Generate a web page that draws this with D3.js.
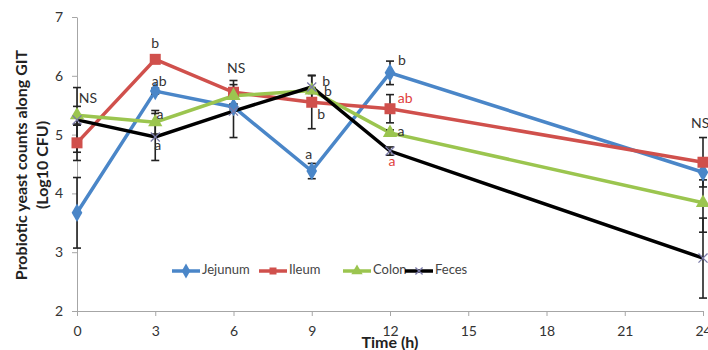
<!DOCTYPE html>
<html lang="en">
  <head>
    <meta charset="UTF-8" />
    <title>Probiotic yeast counts along GIT</title>
    <script src="https://d3js.org/d3.v7.min.js"></script>
    <style>
      body { margin: 0; background: #fff; }
      text { font-family: "Lato", "Open Sans", sans-serif; }
      .axis path, .axis line { stroke: #a6a6a6; }
      .axis text { font-size: 14px; fill: #333; }
      .axis-label { font-size: 16px; font-weight: bold; fill: #222; }
      .line { fill: none; stroke-width: 3.5px; }
      .ann { font-size: 14px; }
    </style>
  </head>
  <body>
    <svg id="chart" width="708" height="350"></svg>
    <script>
      // data
      const times = [0, 3, 6, 9, 12, 24];
      const tickTimes = [0, 3, 6, 9, 12, 15, 18, 21, 24];
      const seriesNames = ["Jejunum", "Ileum", "Colon", "Feces"];
      const jejunum = [3.67, 5.74, 5.47, 4.38, 6.05, 4.36];
      const ileum = [4.86, 6.28, 5.72, 5.55, 5.44, 4.53];
      const colon = [5.33, 5.21, 5.66, 5.75, 5.03, 3.84];
      const feces = [5.25, 4.96, 5.40, 5.81, 4.72, 2.90];
      const jejunumErr = [0.6, 0.05, 0.05, 0.13, 0.2, 0.13];
      const ileumErr = [0.3, 0.05, 0.2, 0.45, 0.24, 0.42];
      const colonErr = [0.15, 0.2, 0.05, 0.05, 0.05, 0.5];
      const fecesErr = [0.55, 0.4, 0.45, 0.2, 0.07, 0.68];
      // significance letters: time (h), value at text centre, label, red?
      const annTimes = [0.42, 3.0, 3.15, 3.18, 3.1, 6.1, 9.55, 9.62, 9.36, 8.88, 12.46, 12.58, 12.42, 12.08, 23.89];
      const annValues = [5.59, 6.54, 5.88, 5.33, 4.79, 6.1, 5.88, 5.72, 5.33, 4.64, 6.25, 5.59, 5.04, 4.52, 5.18];
      const annLabels = ["NS", "b", "ab", "a", "a", "NS", "b", "b", "b", "a", "b", "ab", "a", "a", "NS"];
      const annRed = [0, 0, 0, 0, 0, 0, 0, 0, 0, 0, 0, 1, 0, 1, 0];

      const svg = d3.select("#chart");

      const x = d3.scaleLinear().domain([0, 24]).range([77, 703]);
      const y = d3.scaleLinear().domain([2, 7]).range([311, 17]);

      const colors = d3
        .scaleOrdinal()
        .domain(seriesNames)
        .range(["#4a86c8", "#d0504c", "#9bc54f", "#000000"]);

      const series = [
        { name: "Jejunum", values: jejunum, err: jejunumErr },
        { name: "Ileum", values: ileum, err: ileumErr },
        { name: "Colon", values: colon, err: colonErr },
        { name: "Feces", values: feces, err: fecesErr },
      ];

      // axes
      svg
        .append("g")
        .attr("class", "axis")
        .attr("transform", "translate(0,311)")
        .call(d3.axisBottom(x).tickValues(tickTimes).tickSize(5).tickSizeOuter(0).tickPadding(10));

      svg
        .append("g")
        .attr("class", "axis")
        .attr("transform", "translate(77,0)")
        .call(d3.axisLeft(y).ticks(5).tickSize(5).tickSizeOuter(0).tickPadding(9));

      svg
        .append("text")
        .attr("class", "axis-label")
        .attr("x", 390)
        .attr("y", 348)
        .attr("text-anchor", "middle")
        .text("Time (h)");

      const yTitle = svg
        .append("text")
        .attr("class", "axis-label")
        .attr("transform", "translate(27,165) rotate(-90)")
        .attr("text-anchor", "middle");
      yTitle.append("tspan").attr("x", 0).attr("dy", 0).text("Probiotic yeast counts along GIT");
      yTitle.append("tspan").attr("x", 0).attr("dy", 21).text("(Log10 CFU)");

      const line = d3
        .line()
        .x((d, i) => x(times[i]))
        .y((d) => y(d));

      // lines
      series.forEach((s) => {
        svg
          .append("path")
          .datum(s.values)
          .attr("class", "line")
          .attr("stroke", colors(s.name))
          .attr("d", line);
      });

      // error bars
      series.forEach((s) => {
        const g = svg.append("g").attr("stroke", "#222").attr("stroke-width", 1.6);
        s.values.forEach((v, i) => {
          const cx = x(times[i]);
          const e = s.err[i];
          g.append("line").attr("x1", cx).attr("x2", cx).attr("y1", y(v + e)).attr("y2", y(v - e));
          [v + e, v - e].forEach((c) => {
            g.append("line").attr("x1", cx - 4).attr("x2", cx + 4).attr("y1", y(c)).attr("y2", y(c));
          });
        });
      });

      // markers
      function marker(g, name, cx, cy, s) {
        const c = colors(name);
        if (name === "Jejunum") {
          g.append("path").attr("d", d3.symbol(d3.symbolDiamond, s * 9)()).attr("transform", `translate(${cx},${cy})`).attr("fill", c);
        } else if (name === "Ileum") {
          g.append("rect").attr("x", cx - s / 2).attr("y", cy - s / 2).attr("width", s).attr("height", s).attr("fill", c);
        } else if (name === "Colon") {
          g.append("path").attr("d", d3.symbol(d3.symbolTriangle, s * 8)()).attr("transform", `translate(${cx},${cy})`).attr("fill", c);
        } else {
          g.append("path").attr("d", d3.symbol(d3.symbolX, s * 5)()).attr("transform", `translate(${cx},${cy})`).attr("fill", "none").attr("stroke", "#7a7aa8").attr("stroke-width", 1.3);
        }
      }

      series.forEach((s) => {
        const g = svg.append("g");
        s.values.forEach((v, i) => marker(g, s.name, x(times[i]), y(v), 11));
      });

      // significance letters
      svg
        .append("g")
        .selectAll("text")
        .data(annLabels)
        .join("text")
        .attr("class", "ann")
        .attr("x", (d, i) => x(annTimes[i]))
        .attr("y", (d, i) => y(annValues[i]))
        .attr("text-anchor", "middle")
        .attr("dominant-baseline", "middle")
        .attr("fill", (d, i) => (annRed[i] ? "#e0403c" : "#333"))
        .text((d) => d);

      // legend
      const legendX = [172, 259, 343, 405];
      const legend = svg.append("g");
      seriesNames.forEach((name, i) => {
        const lx = legendX[i];
        legend.append("line").attr("x1", lx).attr("x2", lx + 28).attr("y1", 271).attr("y2", 271).attr("stroke", colors(name)).attr("stroke-width", 3.5);
        marker(legend, name, lx + 14, 271, 7);
        legend
          .append("text")
          .attr("x", lx + 30)
          .attr("y", 271)
          .attr("dominant-baseline", "middle")
          .style("font-size", "13px")
          .attr("fill", "#444")
          .text(name);
      });
    </script>
  </body>
</html>
